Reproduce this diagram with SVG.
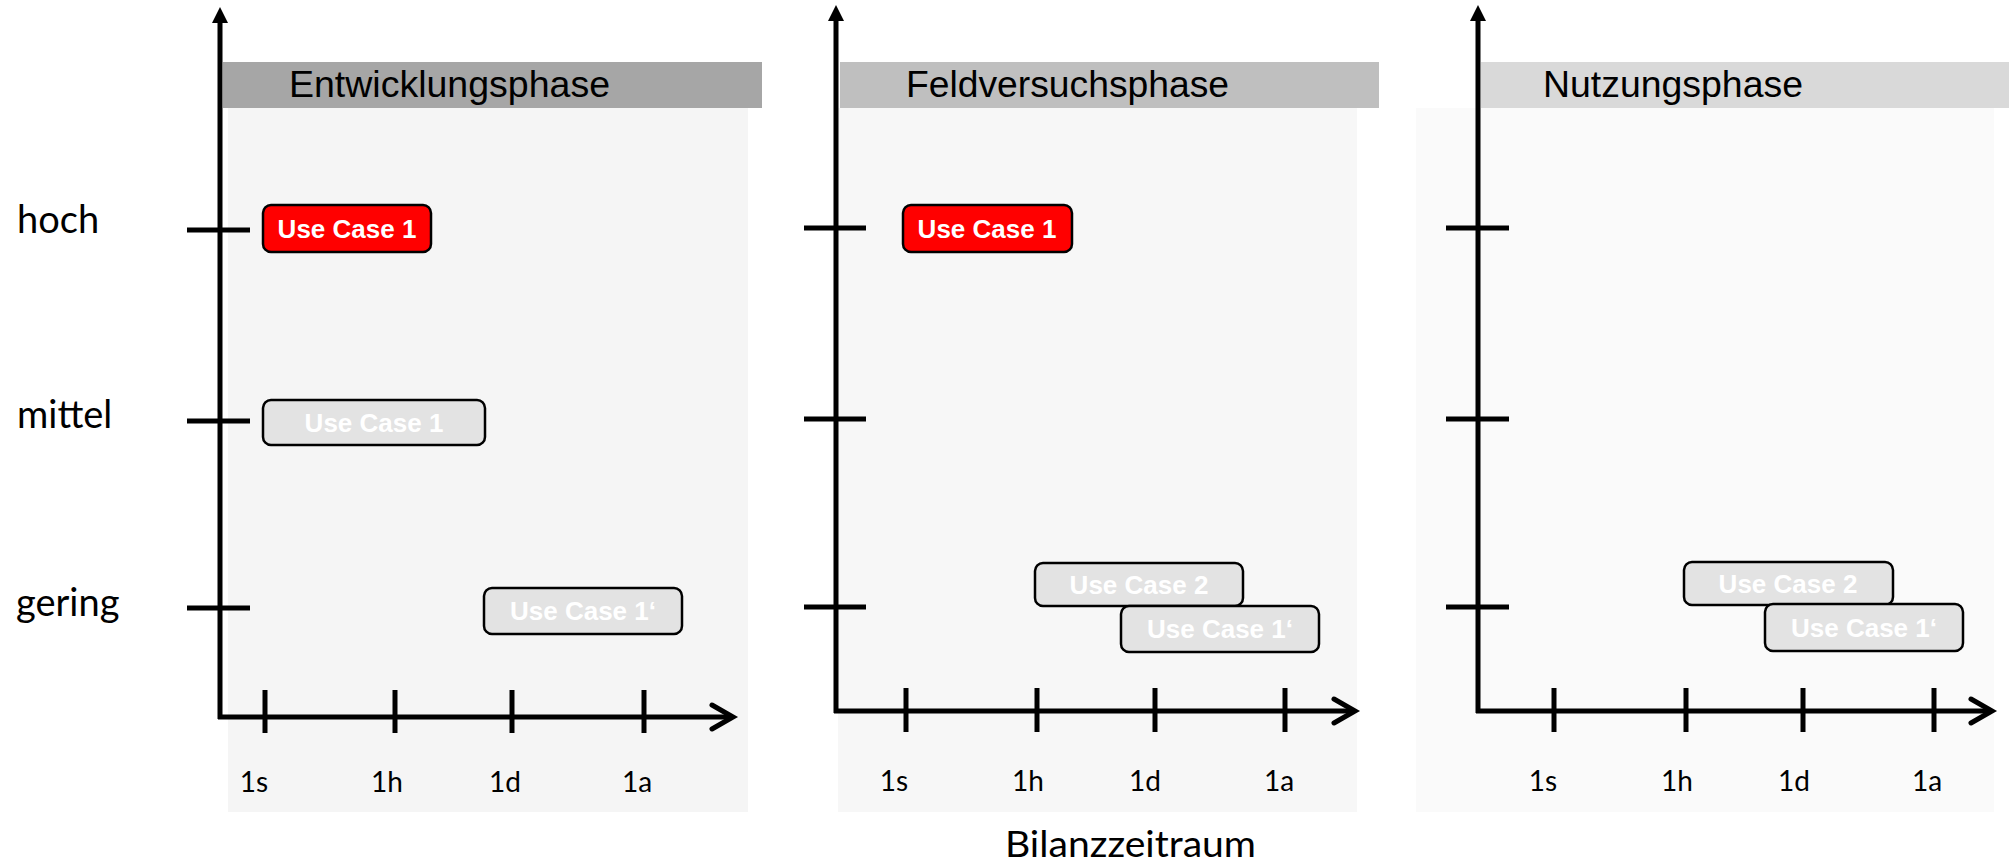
<svg xmlns="http://www.w3.org/2000/svg" width="2009" height="864" viewBox="0 0 2009 864">
<style>
.hdrtxt{font-family:"Liberation Sans",Arial,sans-serif;font-size:36px;fill:#000}
.uc{font-family:"Liberation Sans",Arial,sans-serif;font-size:26px;font-weight:bold;fill:#fff;text-anchor:middle}
.lvl{font-family:Lato,"Open Sans",sans-serif;font-size:38px;fill:#000}
.tl{font-family:Lato,"Open Sans",sans-serif;font-size:28px;fill:#000;text-anchor:middle}
.red{fill:#ff0000;stroke:#000;stroke-width:2.5}
.gray{fill:#e3e3e3;stroke:#000;stroke-width:2.5}
.ax{stroke:#000;stroke-width:5;fill:none}
.tick{stroke:#000;stroke-width:5}
</style>
<defs>
<marker id="tri" markerUnits="userSpaceOnUse" markerWidth="20" markerHeight="20" refX="0" refY="0" orient="auto" overflow="visible">
<path d="M0,-8 L16,0 L0,8 Z" fill="#000"/>
</marker>
<marker id="chev" markerUnits="userSpaceOnUse" markerWidth="30" markerHeight="30" refX="0" refY="0" orient="auto" overflow="visible">
<path d="M-21,-12 L0,0 L-21,12" fill="none" stroke="#000" stroke-width="5" stroke-linecap="round"/>
</marker>
</defs>

<g id="panel-bg">
<rect x="228" y="108" width="520" height="704" fill="#f5f5f5"/>
<rect x="838" y="108" width="519" height="704" fill="#f7f7f7"/>
<rect x="1416" y="108" width="578" height="704" fill="#fafafa"/>
</g>

<g id="header-entwicklung">
<rect x="223" y="62" width="539" height="46" fill="#a6a6a6"/>
<text class="hdrtxt" x="289" y="97" textLength="321" lengthAdjust="spacingAndGlyphs">Entwicklungsphase</text>
</g>
<g id="header-feldversuch">
<rect x="840" y="62" width="539" height="46" fill="#bfbfbf"/>
<text class="hdrtxt" x="906" y="97" textLength="323" lengthAdjust="spacingAndGlyphs">Feldversuchsphase</text>
</g>
<g id="header-nutzung">
<rect x="1481" y="62" width="528" height="46" fill="#d9d9d9"/>
<text class="hdrtxt" x="1543" y="97" textLength="260" lengthAdjust="spacingAndGlyphs">Nutzungsphase</text>
</g>

<g id="level-labels">
<text class="lvl" x="17" y="233">hoch</text>
<text class="lvl" x="17" y="428">mittel</text>
<text class="lvl" x="16" y="616">gering</text>
</g>

<g id="connectors">
<line class="ax" x1="220" y1="719" x2="220" y2="23" marker-end="url(#tri)"/>
<line class="ax" x1="218" y1="717" x2="733" y2="717" marker-end="url(#chev)"/>
<line class="ax" x1="836" y1="713" x2="836" y2="21" marker-end="url(#tri)"/>
<line class="ax" x1="834" y1="711" x2="1355" y2="711" marker-end="url(#chev)"/>
<line class="ax" x1="1478" y1="713" x2="1478" y2="21" marker-end="url(#tri)"/>
<line class="ax" x1="1476" y1="711" x2="1992" y2="711" marker-end="url(#chev)"/>
</g>

<g id="ticks">
<line class="tick" x1="187" y1="230" x2="250" y2="230"/>
<line class="tick" x1="187" y1="421" x2="250" y2="421"/>
<line class="tick" x1="187" y1="608" x2="250" y2="608"/>
<line class="tick" x1="265" y1="690" x2="265" y2="733"/>
<line class="tick" x1="395" y1="690" x2="395" y2="733"/>
<line class="tick" x1="512" y1="690" x2="512" y2="733"/>
<line class="tick" x1="644" y1="690" x2="644" y2="733"/>

<line class="tick" x1="804" y1="228" x2="866" y2="228"/>
<line class="tick" x1="804" y1="419" x2="866" y2="419"/>
<line class="tick" x1="804" y1="607" x2="866" y2="607"/>
<line class="tick" x1="906" y1="688" x2="906" y2="732"/>
<line class="tick" x1="1037" y1="688" x2="1037" y2="732"/>
<line class="tick" x1="1155" y1="688" x2="1155" y2="732"/>
<line class="tick" x1="1285" y1="688" x2="1285" y2="732"/>

<line class="tick" x1="1446" y1="228" x2="1509" y2="228"/>
<line class="tick" x1="1446" y1="419" x2="1509" y2="419"/>
<line class="tick" x1="1446" y1="607" x2="1509" y2="607"/>
<line class="tick" x1="1554" y1="688" x2="1554" y2="732"/>
<line class="tick" x1="1686" y1="688" x2="1686" y2="732"/>
<line class="tick" x1="1803" y1="688" x2="1803" y2="732"/>
<line class="tick" x1="1934" y1="688" x2="1934" y2="732"/>
</g>

<g id="time-labels">
<text class="tl" x="254" y="792">1s</text>
<text class="tl" x="387" y="792">1h</text>
<text class="tl" x="505" y="792">1d</text>
<text class="tl" x="637" y="792">1a</text>
<text class="tl" x="894" y="791">1s</text>
<text class="tl" x="1028" y="791">1h</text>
<text class="tl" x="1145" y="791">1d</text>
<text class="tl" x="1279" y="791">1a</text>
<text class="tl" x="1543" y="791">1s</text>
<text class="tl" x="1677" y="791">1h</text>
<text class="tl" x="1794" y="791">1d</text>
<text class="tl" x="1927" y="791">1a</text>
</g>

<g id="p1-uc1-hoch">
<rect class="red" x="263" y="205" width="168" height="47" rx="8"/>
<text class="uc" x="347" y="238">Use Case 1</text>
</g>
<g id="p1-uc1-mittel">
<rect class="gray" x="263" y="400" width="222" height="45" rx="8"/>
<text class="uc" x="374" y="432">Use Case 1</text>
</g>
<g id="p1-uc1prime">
<rect class="gray" x="484" y="588" width="198" height="46" rx="8"/>
<text class="uc" x="583" y="620">Use Case 1‘</text>
</g>

<g id="p2-uc1-hoch">
<rect class="red" x="903" y="205" width="169" height="47" rx="8"/>
<text class="uc" x="987" y="238">Use Case 1</text>
</g>
<g id="p2-uc2">
<rect class="gray" x="1035" y="563" width="208" height="43" rx="8"/>
<text class="uc" x="1139" y="594">Use Case 2</text>
</g>
<g id="p2-uc1prime">
<rect class="gray" x="1121" y="606" width="198" height="46" rx="8"/>
<text class="uc" x="1220" y="638">Use Case 1‘</text>
</g>

<g id="p3-uc2">
<rect class="gray" x="1684" y="562" width="209" height="43" rx="8"/>
<text class="uc" x="1788" y="593">Use Case 2</text>
</g>
<g id="p3-uc1prime">
<rect class="gray" x="1765" y="604" width="198" height="47" rx="8"/>
<text class="uc" x="1864" y="637">Use Case 1‘</text>
</g>

<g id="x-title">
<text class="lvl" x="1005" y="857" textLength="251" lengthAdjust="spacingAndGlyphs" style="font-size:36px">Bilanzzeitraum</text>
</g>
</svg>
